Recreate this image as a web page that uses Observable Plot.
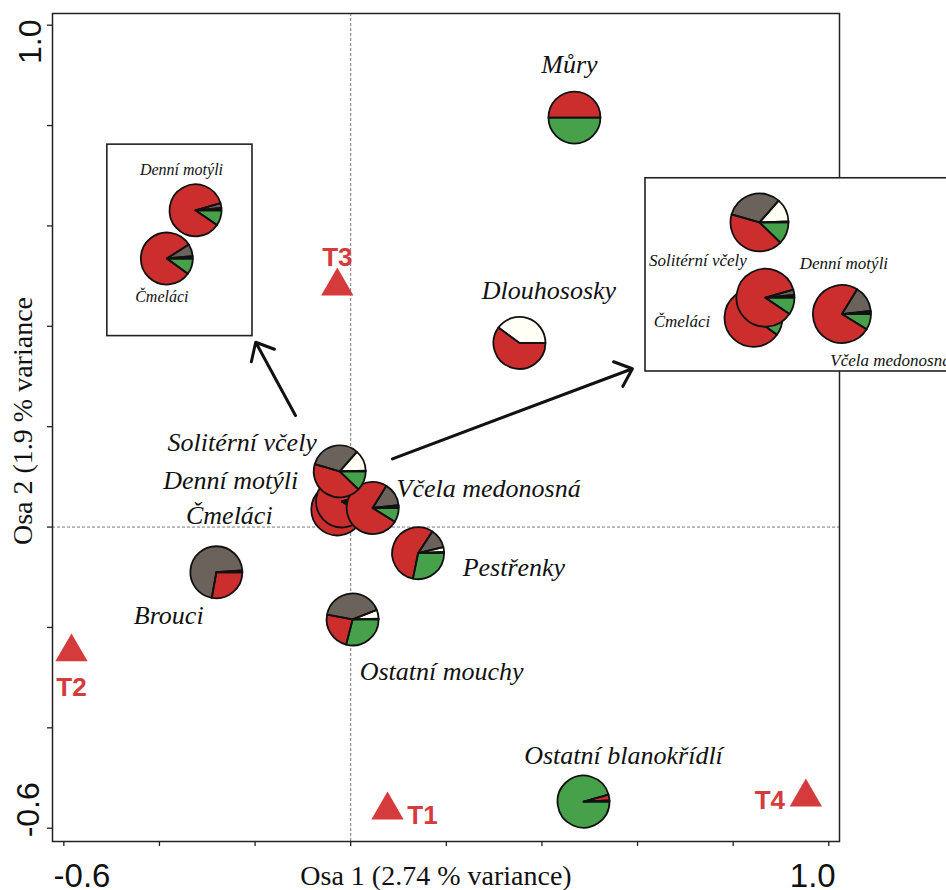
<!DOCTYPE html>
<html><head><meta charset="utf-8">
<script src="https://cdn.jsdelivr.net/npm/d3@7"></script>
<script src="https://cdn.jsdelivr.net/npm/@observablehq/plot@0.6"></script>
<style>
html,body{margin:0;padding:0;background:#fff;overflow:hidden;}
svg g[aria-label="x-axis tick"] path, svg g[aria-label="y-axis tick"] path{stroke-width:1.3;stroke:#222;}
</style></head><body><div id="chart"></div>
<script>
// ---- data ----
const groups = ["Můry","Dlouhososky","Čmeláci","Denní motýli","Včela medonosná","Solitérní včely","Pestřenky","Brouci","Ostatní mouchy","Ostatní blanokřídlí"];
const osa1 = [0.468, 0.353, -0.028, -0.018, 0.046, -0.023, 0.141, -0.281, 0.004, 0.487];
const osa2 = [0.816, 0.367, 0.035, 0.051, 0.038, 0.111, -0.052, -0.090, -0.184, -0.547];
// composition shares, drawn counter-clockwise from east in this order
const shareBlack = [0, 0, 0.015, 0.015, 0.012, 0.005, 0.008, 0.012, 0.005, 0.008];
const shareWhite = [0, 0.40, 0, 0, 0.005, 0.13, 0.03, 0, 0.055, 0];
const shareGray  = [0, 0, 0.075, 0.03, 0.145, 0.32, 0.12, 0.71, 0.41, 0];
const shareRed   = [0.5, 0.60, 0.81, 0.86, 0.75, 0.423, 0.56, 0.278, 0.24, 0.035];
const shareGreen = [0.5, 0, 0.10, 0.095, 0.088, 0.122, 0.282, 0, 0.29, 0.957];
const shareNames = ["černá","bílá","šedá","červená","zelená"];
const shareColors = ["#000000","#fffff6","#6b635b","#cc2e2e","#46a14a"];

const sites = ["T1","T2","T3","T4"];
const siteOsa1 = [0.077, -0.584, -0.028, 0.952];
const siteOsa2 = [-0.564, -0.249, 0.480, -0.538];

const axisTicks = [-0.6,-0.4,-0.2,0,0.2,0.4,0.6,0.8,1.0];
const xTitle = "Osa 1 (2.74 % variance)";
const yTitle = "Osa 2 (1.9 % variance";

// ---- layout (annotations, offsets in px) ----
const W = 946, H = 890;
const labelOffset = {
  "Můry": [-5, -52.5], "Dlouhososky": [29.5, -52.5], "Solitérní včely": [-97.5, -29],
  "Denní motýli": [-111.4, -21], "Čmeláci": [-108, 6], "Včela medonosná": [116, -19.5],
  "Pestřenky": [95.8, 14.3], "Brouci": [-47.6, 43.3], "Ostatní mouchy": [89, 52],
  "Ostatní blanokřídlí": [40, -45.7]
};
const siteOffset = {"T1": [35, 6], "T2": [0, 36], "T3": [0, -28], "T4": [-36, 4]};
const insets = [
  {order: ["Čmeláci","Denní motýli"], focus: "Denní motýli", anchor: [-0.3246, 0.6311], k: 6, r: 26,
   box: [-0.509, -0.2054, 0.3805, 0.762], fontSize: 16,
   labels: {"Denní motýli": [-14, -40], "Čmeláci": [-5, 38.7]}},
  {order: ["Solitérní včely","Čmeláci","Denní motýli","Včela medonosná"], focus: "Solitérní včely", anchor: [0.855, 0.607], k: 2.5, r: 29,
   box: [0.6166, 1.30, 0.310, 0.695], fontSize: 17,
   labels: {"Solitérní včely": [-61.5, 38], "Denní motýli": [78.5, -34], "Čmeláci": [-71.5, 3.7], "Včela medonosná": [48.6, 46.7]}}
];
const arrows = [
  {x1: -0.1155, y1: 0.2223, x2: -0.1987, y2: 0.3683},
  {x1: 0.0874, y1: 0.1359, x2: 0.5892, y2: 0.3155}
];

// ---- build ----
const shareArrays = [shareBlack, shareWhite, shareGray, shareRed, shareGreen];
const rows = groups.map((g, i) => ({name: g, x: osa1[i], y: osa2[i], i}));
const byName = Object.fromEntries(rows.map(d => [d.name, d]));

function wedge(a0, a1) {
  return {draw(ctx, size) {
    const r = Math.sqrt(size / Math.PI);
    ctx.moveTo(0, 0);
    ctx.arc(0, 0, r, -a1, -a0);
    ctx.closePath();
  }};
}
function pieMarks(row, x, y, r) {
  const shares = shareArrays.map(a => a[row.i]);
  const total = d3.sum(shares);
  const fills = [], strokes = [];
  let acc = 0;
  shares.forEach((s, j) => {
    if (s <= 0) return;
    const a0 = acc / total * 2 * Math.PI; acc += s;
    const a1 = acc / total * 2 * Math.PI;
    const datum = [{x, y, cat: shareNames[j]}];
    fills.push(Plot.dot(datum, {x: "x", y: "y", r, symbol: wedge(a0, a1), fill: "cat"}));
    strokes.push(Plot.dot(datum, {x: "x", y: "y", r, symbol: wedge(a0, a1), fill: "none", stroke: "#111", strokeWidth: 1.8, strokeLinejoin: "round"}));
  });
  return [...fills, ...strokes];
}

const serif = "Liberation Serif, Times New Roman, serif";
const sans = "Liberation Sans, Arial, sans-serif";
const red = "#d53a3c";
const mid = {textAnchor: "middle", lineAnchor: "middle"};

const marks = [];
marks.push(Plot.ruleX([0], {stroke: "#555", strokeWidth: 0.8, strokeDasharray: "3,2"}));
marks.push(Plot.ruleY([0], {stroke: "#555", strokeWidth: 0.8, strokeDasharray: "3,2"}));
marks.push(Plot.frame({stroke: "#222", strokeWidth: 1.5}));

// inset boxes
for (const ins of insets) {
  marks.push(Plot.rect([ins.box], {x1: d => d[0], x2: d => d[1], y1: d => d[2], y2: d => d[3], fill: "white", stroke: "#222", strokeWidth: 1.6}));
}
// arrows
marks.push(Plot.arrow(arrows, {x1: "x1", y1: "y1", x2: "x2", y2: "y2", stroke: "#111", strokeWidth: 3, headLength: 10, headAngle: 82}));

// sites
const siteRows = sites.map((s, i) => ({name: s, x: siteOsa1[i], y: siteOsa2[i]}));
marks.push(Plot.dot(siteRows, {x: "x", y: "y", symbol: "triangle", r: 12, fill: red}));
for (const s of siteRows) {
  const [dx, dy] = siteOffset[s.name];
  marks.push(Plot.text([s], {x: "x", y: "y", text: "name", dx, dy, ...mid, fill: red, fontFamily: sans, fontWeight: "bold", fontSize: 26}));
}

// main pies
for (const row of rows) marks.push(...pieMarks(row, row.x, row.y, 26));
for (const row of rows) {
  const [dx, dy] = labelOffset[row.name];
  marks.push(Plot.text([row], {x: "x", y: "y", text: "name", dx, dy, ...mid, fill: "#111", fontFamily: serif, fontStyle: "italic", fontSize: 26}));
}

// inset pies (magnified positions)
for (const ins of insets) {
  const f = byName[ins.focus];
  for (const name of ins.order) {
    const row = byName[name];
    const ix = ins.anchor[0] + ins.k * (row.x - f.x);
    const iy = ins.anchor[1] + ins.k * (row.y - f.y);
    marks.push(...pieMarks(row, ix, iy, ins.r));
    const [dx, dy] = ins.labels[name];
    marks.push(Plot.text([{x: ix, y: iy, name}], {x: "x", y: "y", text: "name", dx, dy, ...mid, fill: "#111", fontFamily: serif, fontStyle: "italic", fontSize: ins.fontSize}));
  }
}

// axis tick labels & titles
marks.push(Plot.text([{v: -0.6, t: "-0.6"}], {x: "v", text: "t", frameAnchor: "bottom", ...mid, dx: 18.2, dy: 34.5, fontFamily: sans, fontSize: 33, fill: "#111"}));
marks.push(Plot.text([{v: 1.0, t: "1.0"}], {x: "v", text: "t", frameAnchor: "bottom", ...mid, dx: -16, dy: 34.5, fontFamily: sans, fontSize: 33, fill: "#111"}));
marks.push(Plot.text([{v: 1.0, t: "1.0"}], {y: "v", text: "t", frameAnchor: "left", ...mid, rotate: -90, dx: -22, dy: 16.5, fontFamily: sans, fontSize: 32, fill: "#111"}));
marks.push(Plot.text([{v: -0.6, t: "-0.6"}], {y: "v", text: "t", frameAnchor: "left", ...mid, rotate: -90, dx: -23.5, dy: -18.4, fontFamily: sans, fontSize: 32, fill: "#111"}));
marks.push(Plot.text([xTitle], {text: d => d, frameAnchor: "bottom", ...mid, dx: -10, dy: 35, fontFamily: serif, fontSize: 28, fill: "#111"}));
marks.push(Plot.text([yTitle], {text: d => d, frameAnchor: "left", ...mid, rotate: -90, dx: -29.5, dy: -6.5, fontFamily: serif, fontSize: 28, fill: "#111"}));

const chart = Plot.plot({
  width: W, height: H,
  marginLeft: 52, marginRight: 107, marginTop: 13, marginBottom: 49,
  x: {domain: [-0.6237, 1.0224], ticks: axisTicks, tickFormat: () => "", tickSize: 5, label: null},
  y: {domain: [-0.6265, 1.0233], ticks: axisTicks, tickFormat: () => "", tickSize: 5, label: null},
  color: {domain: shareNames, range: shareColors},
  style: {background: "white", overflow: "visible"},
  marks
});
document.getElementById("chart").appendChild(chart);
</script></body></html>
